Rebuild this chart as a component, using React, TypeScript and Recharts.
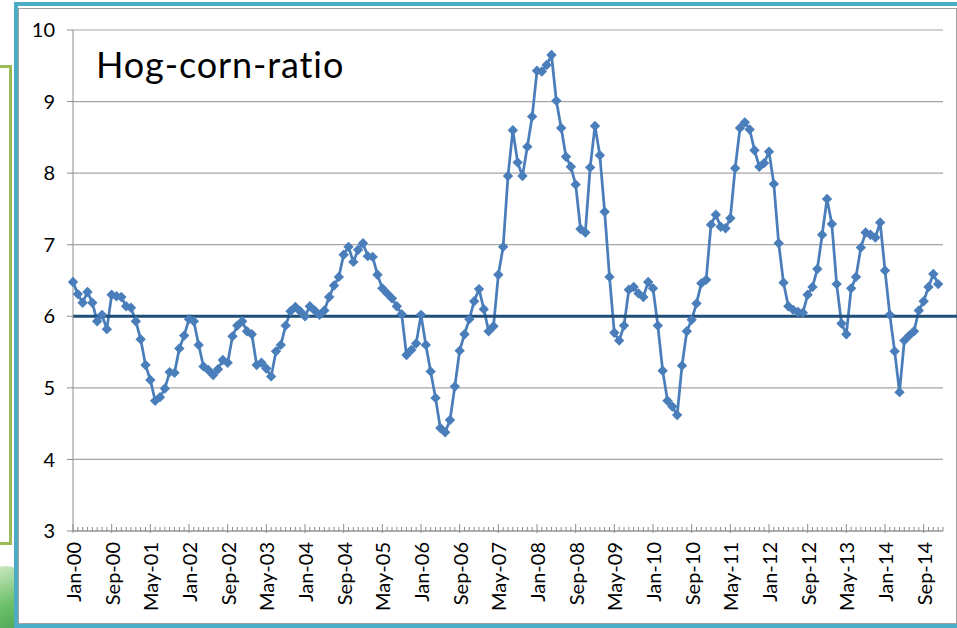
import React from "react";
import {
  LineChart,
  Line,
  XAxis,
  YAxis,
  CartesianGrid,
  ReferenceLine,
} from "recharts";

// monthly hog-corn price ratio, Jan 2000 .. Dec 2014
const ratio2000 = [6.48, 6.31, 6.19, 6.34, 6.19, 5.93, 6.02, 5.82, 6.3, 6.28, 6.27, 6.14];
const ratio2001 = [6.12, 5.93, 5.68, 5.32, 5.11, 4.82, 4.87, 4.99, 5.22, 5.21, 5.55, 5.73];
const ratio2002 = [5.96, 5.93, 5.6, 5.3, 5.25, 5.18, 5.26, 5.39, 5.35, 5.72, 5.87, 5.93];
const ratio2003 = [5.79, 5.75, 5.32, 5.35, 5.27, 5.16, 5.51, 5.6, 5.87, 6.07, 6.13, 6.07];
const ratio2004 = [6.0, 6.14, 6.08, 6.02, 6.08, 6.27, 6.43, 6.55, 6.86, 6.97, 6.76, 6.93];
const ratio2005 = [7.02, 6.84, 6.83, 6.58, 6.39, 6.32, 6.25, 6.14, 6.03, 5.46, 5.53, 5.62];
const ratio2006 = [6.02, 5.6, 5.23, 4.86, 4.44, 4.38, 4.55, 5.02, 5.52, 5.75, 5.96, 6.21];
const ratio2007 = [6.38, 6.1, 5.79, 5.86, 6.58, 6.97, 7.96, 8.6, 8.15, 7.96, 8.37, 8.79];
const ratio2008 = [9.43, 9.42, 9.51, 9.65, 9.01, 8.63, 8.23, 8.09, 7.84, 7.22, 7.17, 8.08];
const ratio2009 = [8.66, 8.25, 7.46, 6.55, 5.77, 5.66, 5.87, 6.37, 6.41, 6.32, 6.27, 6.48];
const ratio2010 = [6.39, 5.87, 5.24, 4.82, 4.74, 4.62, 5.31, 5.79, 5.95, 6.18, 6.46, 6.51];
const ratio2011 = [7.28, 7.42, 7.25, 7.23, 7.37, 8.07, 8.63, 8.71, 8.61, 8.32, 8.09, 8.14];
const ratio2012 = [8.3, 7.85, 7.02, 6.47, 6.14, 6.09, 6.06, 6.05, 6.3, 6.41, 6.66, 7.14];
const ratio2013 = [7.64, 7.29, 6.45, 5.9, 5.75, 6.39, 6.55, 6.96, 7.17, 7.14, 7.1, 7.31];
const ratio2014 = [6.64, 6.02, 5.51, 4.94, 5.66, 5.73, 5.79, 6.08, 6.21, 6.41, 6.59, 6.45];

const years = ["00", "01", "02", "03", "04", "05", "06", "07", "08", "09", "10", "11", "12", "13", "14"];
const monthNames = ["Jan", "Feb", "Mar", "Apr", "May", "Jun", "Jul", "Aug", "Sep", "Oct", "Nov", "Dec"];
const ratioByYear = [
  ratio2000, ratio2001, ratio2002, ratio2003, ratio2004, ratio2005, ratio2006, ratio2007,
  ratio2008, ratio2009, ratio2010, ratio2011, ratio2012, ratio2013, ratio2014,
];
const yTicks = [3, 4, 5, 6, 7, 8, 9, 10];
const breakEven = 6;
const labelEvery = 8; // a label every 8 months

const data = ratioByYear.flatMap((vals, yi) =>
  vals.map((ratio, m) => ({
    t: yi * 12 + m,
    label: `${monthNames[m]}-${years[yi]}`,
    ratio,
  }))
);

const monthTicks = Array.from({ length: data.length + 1 }, (_, i) => i);

const MonthTick = (props: any) => {
  const { x, y, payload } = props;
  const t = payload.value;
  const major = t % labelEvery === 0;
  const row = data[t];
  return (
    <g>
      <line
        x1={x}
        x2={x}
        y1={y - (major ? 7 : 4)}
        y2={y + (major ? 2 : 0)}
        stroke="#8c8c8c"
        strokeWidth={1}
      />
      {major && row && (
        <text
          x={x + 3}
          y={y + 11}
          transform={`rotate(-90, ${x + 3}, ${y + 11})`}
          textAnchor="end"
          dominantBaseline="middle"
          fontSize={20}
          fill="#000"
          fontFamily="Lato"
        >
          {row.label}
        </text>
      )}
    </g>
  );
};

const Diamond = (props: any) => {
  const { cx, cy } = props;
  if (cx == null || cy == null) return null;
  const r = 5.2;
  return (
    <path
      d={`M${cx},${cy - r}L${cx + r},${cy}L${cx},${cy + r}L${cx - r},${cy}Z`}
      fill="#4A7EBB"
    />
  );
};

export default function App() {
  return (
    <div
      style={{
        position: "absolute",
        left: 0,
        top: 0,
        width: 957,
        height: 628,
        overflow: "hidden",
        background: "#fff",
        fontFamily: "Lato",
      }}
    >
      {/* bits of the slide behind the chart */}
      <div
        style={{
          position: "absolute",
          left: -30,
          top: 566,
          width: 70,
          height: 90,
          borderRadius: "50% 50% 0 0",
          background: "linear-gradient(160deg, #e3f2d6 0%, #6cc06a 45%, #2e8b3e 100%)",
        }}
      />
      <div
        style={{
          position: "absolute",
          left: -4,
          top: 65,
          width: 16,
          height: 480,
          boxSizing: "border-box",
          border: "3px solid #9BBB59",
          background: "#fff",
        }}
      />
      <div
        style={{
          position: "absolute",
          left: 14,
          top: 2,
          width: 980,
          height: 626,
          boxSizing: "border-box",
          border: "4px solid #4BACC6",
          background: "#fff",
        }}
      />
      <div
        style={{
          position: "absolute",
          left: 18,
          top: 8,
          width: 939,
          height: 616,
          boxSizing: "border-box",
          border: "1px solid #a0a0a0",
          background: "#fff",
        }}
      />
      <div style={{ position: "absolute", left: 0, top: 0 }}>
        <LineChart
          width={957}
          height={628}
          data={data}
          margin={{ top: 30, right: 14, bottom: 7, left: 0 }}
        >
          <CartesianGrid vertical={false} stroke="#a6a6a6" strokeWidth={1.2} />
          <XAxis
            type="number"
            dataKey="t"
            domain={[0, data.length]}
            ticks={monthTicks}
            interval={0}
            height={90}
            tickLine={false}
            tickSize={0}
            tickMargin={0}
            tick={<MonthTick />}
            axisLine={{ stroke: "#8c8c8c" }}
          />
          <YAxis
            type="number"
            domain={[3, 10]}
            ticks={yTicks}
            interval={0}
            width={73}
            tickSize={6}
            tickMargin={12}
            tickLine={{ stroke: "#8c8c8c" }}
            axisLine={{ stroke: "#8c8c8c" }}
            tick={{ fontSize: 20, fill: "#000", fontFamily: "Lato" }}
          />
          <Line
            type="linear"
            dataKey="ratio"
            stroke="#4A7EBB"
            strokeWidth={2.75}
            dot={<Diamond />}
            activeDot={false}
            isAnimationActive={false}
          />
          <ReferenceLine
            segment={[
              { x: 0, y: breakEven },
              { x: data.length + 3, y: breakEven },
            ]}
            ifOverflow="visible"
            stroke="#1F4E79"
            strokeWidth={3}
          />
        </LineChart>
      </div>
      <div
        style={{
          position: "absolute",
          left: 96,
          top: 46,
          fontSize: 36,
          lineHeight: "36px",
          letterSpacing: 0.9,
          fontVariantLigatures: "none",
          color: "#000",
          fontFamily: "Lato",
          whiteSpace: "nowrap",
        }}
      >
        Hog-corn-ratio
      </div>
    </div>
  );
}
